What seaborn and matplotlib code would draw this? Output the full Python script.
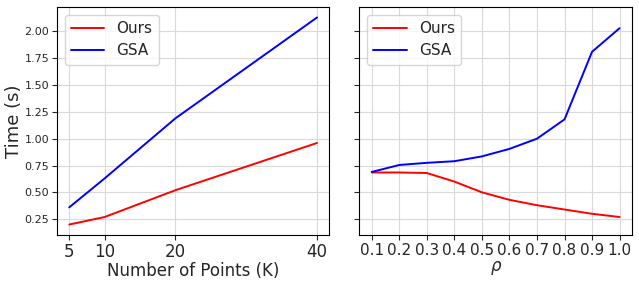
import matplotlib
matplotlib.use("Agg")
import matplotlib.pyplot as plt
import seaborn as sns
import pandas as pd

points = [5, 10, 20, 40]
ours_points = [0.20, 0.27, 0.52, 0.96]
gsa_points = [0.36, 0.63, 1.19, 2.13]

rho = [0.1, 0.2, 0.3, 0.4, 0.5, 0.6, 0.7, 0.8, 0.9, 1.0]
ours_rho = [0.685, 0.685, 0.68, 0.60, 0.50, 0.43, 0.38, 0.34, 0.30, 0.27]
gsa_rho = [0.69, 0.755, 0.775, 0.79, 0.835, 0.905, 1.00, 1.18, 1.81, 2.03]

sns.set_style("white")
plt.rcParams['font.family'] = ['DejaVu Sans']

fig, axes = plt.subplots(1, 2, figsize=(6.39, 2.84), dpi=100, sharey=True)
fig.subplots_adjust(left=0.089, right=0.989, bottom=0.173, top=0.975, wspace=0.11)

df1 = pd.DataFrame({"x": points * 2, "y": ours_points + gsa_points,
                    "method": ["Ours"] * 4 + ["GSA"] * 4})
df2 = pd.DataFrame({"x": rho * 2, "y": ours_rho + gsa_rho,
                    "method": ["Ours"] * 10 + ["GSA"] * 10})
pal = {"Ours": "#ff0000", "GSA": "#0000ff"}

for ax, df in zip(axes, [df1, df2]):
    sns.lineplot(data=df, x="x", y="y", hue="method", palette=pal, ax=ax, linewidth=1.4)
    ax.grid(True, color="#d9d9d9", linewidth=0.8)
    for s in ax.spines.values():
        s.set_color("black")
        s.set_linewidth(0.8)
    ax.tick_params(axis="both", direction="out", length=3.5, width=0.8, left=True, bottom=True)
    ax.tick_params(axis="y", labelsize=8, pad=2)
    leg = ax.legend(loc="upper left", fontsize=11, handlelength=2.2, framealpha=0.8)
    leg.get_frame().set_edgecolor("#cccccc")

axes[0].set_xticks(points)
axes[0].tick_params(axis="x", labelsize=12, pad=2)
axes[0].set_xlabel("Number of Points (K)", fontsize=12, labelpad=1)
axes[0].set_ylabel("Time (s)", fontsize=13, labelpad=1)
axes[0].set_yticks([0.25, 0.5, 0.75, 1.0, 1.25, 1.5, 1.75, 2.0])

axes[1].set_xticks(rho)
axes[1].tick_params(axis="x", labelsize=11, pad=2)
axes[1].set_xlabel(r"$\rho$", fontsize=12, labelpad=1)
axes[1].set_ylabel("")

fig.savefig("out.png", dpi=100)
